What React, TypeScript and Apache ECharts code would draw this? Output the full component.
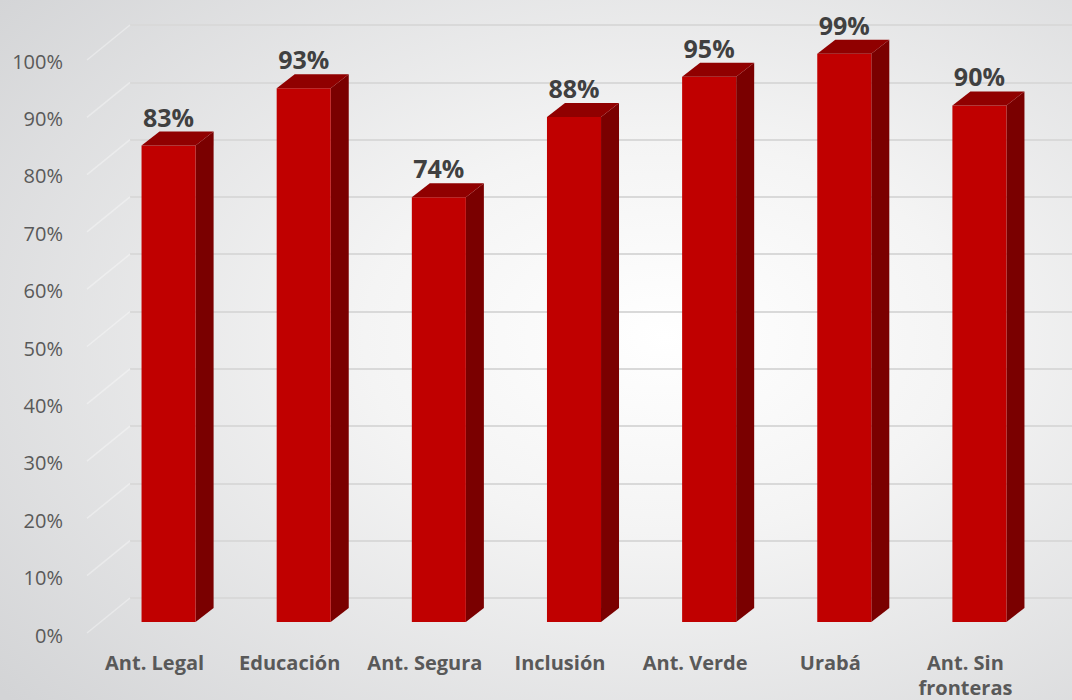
import React, { useEffect, useRef } from "react";
import * as echarts from "echarts";

const categories = ["Ant. Legal", "Educación", "Ant. Segura", "Inclusión", "Ant. Verde", "Urabá", "Ant. Sin\nfronteras"];
const values = [83, 93, 74, 88, 95, 99, 90];
const gridTicks = [0, 10, 20, 30, 40, 50, 60, 70, 80, 90, 100];

export default function App() {
  const ref = useRef<HTMLDivElement>(null);
  useEffect(() => {
    const chart = echarts.init(ref.current!, null, { renderer: "svg" });
    const font = '"Open Sans", "DejaVu Sans", sans-serif';
    const hiddenX = (gi: number) => ({
      type: "category", gridIndex: gi, data: categories, show: false,
    });
    const hiddenY = (gi: number, split: boolean) => ({
      type: "value", gridIndex: gi, min: 0, max: 100, interval: 10,
      axisLabel: { show: false }, axisLine: { show: false }, axisTick: { show: false },
      splitLine: { show: split, lineStyle: { color: "#d9d9d9", width: 2 } },
    });
    chart.setOption({
      animation: false,
      backgroundColor: {
        type: "radial", x: 0.62, y: 0.48, r: 0.8,
        colorStops: [
          { offset: 0, color: "#ffffff" },
          { offset: 0.35, color: "#f4f4f4" },
          { offset: 1, color: "#d3d4d6" },
        ],
      },
      grid: [
        { left: 101, width: 946, top: 48, height: 574 },
        { left: 130, right: 0, top: 25, height: 573 },
        { left: 87, width: 946, top: 61, height: 574 },
      ],
      xAxis: [
        hiddenX(0),
        hiddenX(1),
        {
          type: "category", gridIndex: 2, data: categories,
          axisLine: { show: false }, axisTick: { show: false },
          axisLabel: {
            interval: 0, margin: 15, color: "#595959", fontWeight: "bold",
            fontSize: 20, fontFamily: font, lineHeight: 25,
          },
        },
      ],
      yAxis: [
        hiddenY(0, false),
        hiddenY(1, true),
        {
          type: "value", gridIndex: 2, min: 0, max: 100, interval: 10,
          axisLine: { show: false }, axisTick: { show: false }, splitLine: { show: false },
          axisLabel: { formatter: "{value}%", color: "#595959", fontSize: 20, fontFamily: font, margin: 24 },
        },
      ],
      series: [
        {
          type: "custom", xAxisIndex: 1, yAxisIndex: 1,
          data: gridTicks.map((t) => [0, t]),
          encode: { x: 0, y: 1 },
          silent: true,
          renderItem: (params: any, api: any) => {
            const y = api.coord([0, api.value(1)])[1];
            const x = params.coordSys.x;
            return {
              type: "line",
              shape: { x1: x, y1: y, x2: x - 43, y2: y + 35 },
              style: { stroke: "rgba(255,255,255,0.35)", lineWidth: 1.5 },
            };
          },
        },
        {
          type: "custom", xAxisIndex: 0, yAxisIndex: 0,
          data: values.map((v, i) => [i, v]),
          encode: { x: 0, y: 1 },
          renderItem: (params: any, api: any) => {
            const i = api.value(0);
            const v = api.value(1);
            const top = api.coord([i, v]);
            const base = api.coord([i, 0]);
            const w = api.size([1, 0])[0] * 0.4;
            const x0 = top[0] - w / 2;
            const x1 = top[0] + w / 2;
            const dx = 18, dy = -14;
            return {
              type: "group",
              children: [
                {
                  type: "polygon",
                  shape: { points: [[x1, top[1]], [x1 + dx, top[1] + dy], [x1 + dx, base[1] + dy], [x1, base[1]]] },
                  style: { fill: "#7a0000" },
                },
                {
                  type: "rect",
                  shape: { x: x0, y: top[1], width: w, height: base[1] - top[1] },
                  style: { fill: "#c00000" },
                },
                {
                  type: "polygon",
                  shape: { points: [[x0, top[1]], [x1, top[1]], [x1 + dx, top[1] + dy], [x0 + dx, top[1] + dy]] },
                  style: { fill: "#900000" },
                },
                {
                  type: "text",
                  style: {
                    text: v + "%", x: top[0], y: top[1] - 29, align: "center", verticalAlign: "middle",
                    font: 'bold 25px "Open Sans", sans-serif', fill: "#404040",
                  },
                },
              ],
            };
          },
        },
      ],
    });
    return () => chart.dispose();
  }, []);
  return (
    <div
      ref={ref}
      style={{ position: "absolute", left: 0, top: 0, width: 1072, height: 700 }}
    />
  );
}
